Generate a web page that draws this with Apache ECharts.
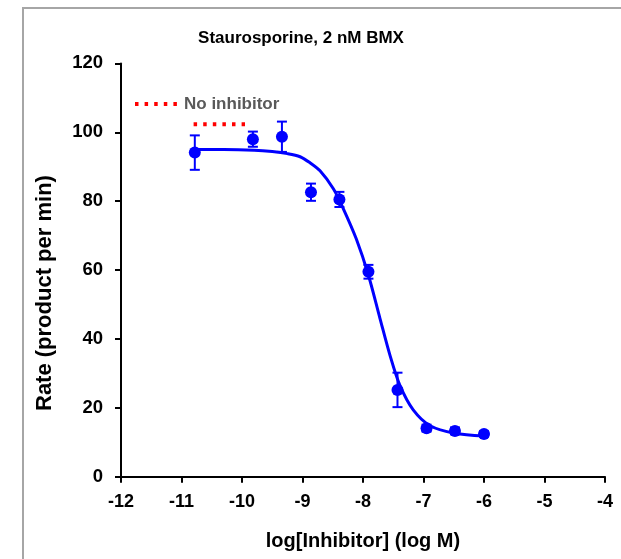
<!DOCTYPE html>
<html>
<head>
<meta charset="utf-8">
<script src="https://cdn.jsdelivr.net/npm/echarts@6/dist/echarts.min.js"></script>
<style>
html,body{margin:0;padding:0;background:#fff;}
#chart{width:621px;height:559px;}
</style>
</head>
<body>
<div id="chart"></div>
<script>
// Measured data (log M vs rate)
const xVals = [-10.78, -9.82, -9.34, -8.86, -8.39, -7.91, -7.43, -6.95, -6.48, -6.0];
const yVals = [94.1, 98.0, 98.7, 82.6, 80.5, 59.5, 25.2, 14.1, 13.3, 12.4];
const yErr  = [5.0, 2.2, 4.4, 2.5, 2.2, 2.0, 5.0, 1.0, 1.0, 0.8];
// Fitted curve
const fitX = [-10.78, -10.3, -9.8, -9.5, -9.25, -9.04, -8.88, -8.71, -8.49, -8.33, -8.11, -7.91, -7.72, -7.55, -7.39, -7.17, -6.89, -6.48, -6.0];
const fitY = [95.0, 95.0, 94.8, 94.4, 93.8, 92.9, 91.2, 88.8, 83.6, 78.0, 69.0, 58.5, 46.0, 35.0, 26.5, 19.4, 14.8, 12.6, 11.8];
// No inhibitor reference
const noInhX = [-10.8, -9.95];
const noInhY = [102.3, 102.3];
const xTicks = [-12, -11, -10, -9, -8, -7, -6, -5, -4];
const legendLabel = 'No inhibitor';

const BLUE = '#0000FF';
const RED = '#FF0000';
const FONT = 'Liberation Sans, Arial, sans-serif';

const chart = echarts.init(document.getElementById('chart'));
chart.setOption({
  animation: false,
  backgroundColor: '#ffffff',
  graphic: [
    {
      type: 'rect', silent: true, z: -10,
      shape: {x: 23, y: 8, width: 700, height: 700},
      style: {fill: 'none', stroke: '#a6a6a6', lineWidth: 2}
    },
    {
      type: 'line', silent: true, z: 10,
      shape: {x1: 135, y1: 104, x2: 180, y2: 104},
      style: {stroke: RED, lineWidth: 4, lineDash: [3.5, 6.1]}
    },
    {
      type: 'text', silent: true, z: 10,
      x: 184, y: 104,
      style: {text: legendLabel, fill: '#595959', font: 'bold 17px ' + FONT, textVerticalAlign: 'middle', verticalAlign: 'middle'}
    }
  ],
  title: {
    text: 'Staurosporine, 2 nM BMX',
    left: 296, top: 25, textAlign: 'center',
    textStyle: {fontFamily: FONT, fontWeight: 'bold', fontSize: 17, color: '#000'}
  },
  grid: {left: 121, right: 16, top: 63.4, bottom: 82.3},
  xAxis: {
    type: 'value', min: -12, max: -4, interval: 1,
    name: 'log[Inhibitor] (log M)', nameLocation: 'middle', nameGap: 55,
    nameTextStyle: {fontFamily: FONT, fontWeight: 'bold', fontSize: 20, color: '#000'},
    axisLine: {lineStyle: {color: '#000', width: 2}},
    axisTick: {show: true, length: 6, lineStyle: {color: '#000', width: 2}},
    axisLabel: {fontFamily: FONT, fontWeight: 'bold', fontSize: 18, color: '#000', margin: 16,
      formatter: v => xTicks.includes(v) ? String(v) : ''},
    splitLine: {show: false}
  },
  yAxis: {
    type: 'value', min: 0, max: 120, interval: 20,
    name: 'Rate (product per min)', nameLocation: 'middle', nameGap: 65,
    nameTextStyle: {fontFamily: FONT, fontWeight: 'bold', fontSize: 22, color: '#000', padding: [0, 46, 0, 0]},
    axisLine: {show: true, lineStyle: {color: '#000', width: 2}},
    axisTick: {show: true, length: 6, lineStyle: {color: '#000', width: 2}},
    axisLabel: {fontFamily: FONT, fontWeight: 'bold', fontSize: 18.5, color: '#000', margin: 18},
    splitLine: {show: false}
  },
  series: [
    {
      name: 'No inhibitor', type: 'line',
      data: noInhX.map((x, i) => [x, noInhY[i]]),
      symbol: 'none',
      lineStyle: {color: RED, width: 4, type: [3.5, 6.1], cap: 'butt'},
      z: 3
    },
    {
      name: 'Fit', type: 'line',
      data: fitX.map((x, i) => [x, fitY[i]]),
      smooth: 0.3, showSymbol: false, symbol: 'none',
      lineStyle: {color: BLUE, width: 3},
      z: 4
    },
    {
      name: 'Error', type: 'custom',
      data: xVals.map((x, i) => [x, yVals[i] - yErr[i], yVals[i] + yErr[i]]),
      encode: {x: 0, y: [1, 2]},
      renderItem: function (params, api) {
        const x = api.value(0);
        const lo = api.coord([x, api.value(1)]);
        const hi = api.coord([x, api.value(2)]);
        const w = 5;
        const st = {stroke: BLUE, lineWidth: 2};
        return {type: 'group', children: [
          {type: 'line', shape: {x1: lo[0], y1: lo[1], x2: hi[0], y2: hi[1]}, style: st},
          {type: 'line', shape: {x1: lo[0] - w, y1: lo[1], x2: lo[0] + w, y2: lo[1]}, style: st},
          {type: 'line', shape: {x1: hi[0] - w, y1: hi[1], x2: hi[0] + w, y2: hi[1]}, style: st}
        ]};
      },
      z: 5
    },
    {
      name: 'Data', type: 'scatter',
      data: xVals.map((x, i) => [x, yVals[i]]),
      symbol: 'circle', symbolSize: 12,
      itemStyle: {color: BLUE, opacity: 1},
      z: 6
    }
  ]
});
</script>
</body>
</html>
